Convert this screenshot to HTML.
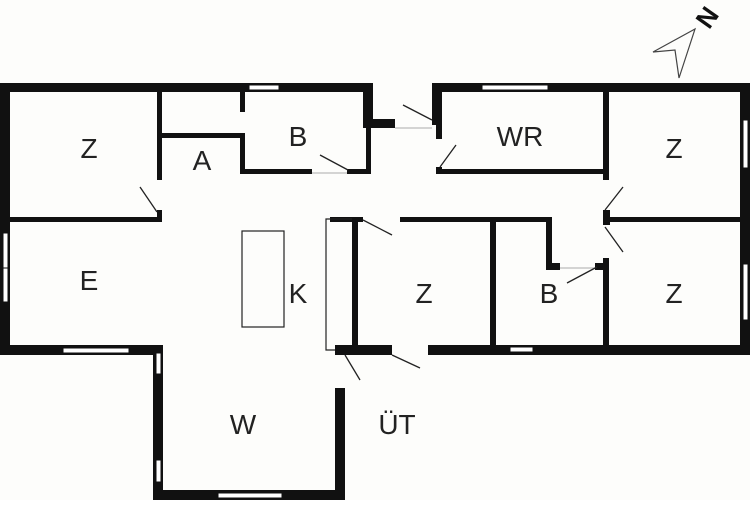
<!DOCTYPE html>
<html><head><meta charset="utf-8"><style>
html,body{margin:0;padding:0;background:#fff;}
svg text{font-family:"Liberation Sans",sans-serif;font-size:28px;fill:#222;text-anchor:middle;}
</style></head><body>
<svg width="750" height="500" viewBox="0 0 750 500" xmlns="http://www.w3.org/2000/svg">
<rect width="750" height="500" fill="#fdfdfb"/>
<g fill="#111">
<rect x="0" y="83" width="373" height="9"/>
<rect x="363" y="83" width="10" height="45"/>
<rect x="363" y="119" width="32" height="9"/>
<rect x="366" y="128" width="5" height="46"/>
<rect x="432" y="83" width="318" height="9"/>
<rect x="432" y="83" width="10" height="42"/>
<rect x="436" y="125" width="6" height="14"/>
<rect x="436" y="167" width="6" height="7"/>
<rect x="436" y="169" width="172" height="5"/>
<rect x="0" y="83" width="10" height="272"/>
<rect x="0" y="345" width="163" height="10"/>
<rect x="157" y="92" width="5" height="88"/>
<rect x="157" y="210" width="5" height="12"/>
<rect x="10" y="217" width="152" height="5"/>
<rect x="162" y="133" width="83" height="5"/>
<rect x="240" y="133" width="5" height="41"/>
<rect x="240" y="92" width="5" height="20"/>
<rect x="240" y="169" width="72" height="5"/>
<rect x="347" y="169" width="24" height="5"/>
<rect x="740" y="83" width="10" height="272"/>
<rect x="603" y="92" width="6" height="88"/>
<rect x="603" y="210" width="7" height="15"/>
<rect x="603" y="217" width="137" height="5"/>
<rect x="603" y="258" width="6" height="97"/>
<rect x="330" y="217" width="33" height="5"/>
<rect x="400" y="217" width="152" height="5"/>
<rect x="546" y="217" width="6" height="53"/>
<rect x="546" y="263" width="14" height="7"/>
<rect x="595" y="263" width="14" height="7"/>
<rect x="490" y="217" width="6" height="133"/>
<rect x="352" y="217" width="6" height="133"/>
<rect x="335" y="345" width="57" height="10"/>
<rect x="428" y="345" width="322" height="10"/>
<rect x="153" y="345" width="10" height="155"/>
<rect x="153" y="490" width="192" height="10"/>
<rect x="335" y="388" width="10" height="112"/>
</g>
<g fill="#fff" stroke="#111" stroke-width="1">
<rect x="249" y="85" width="30" height="5"/>
<rect x="482" y="85" width="66" height="5"/>
<rect x="743" y="120" width="5" height="48"/>
<rect x="743" y="264" width="5" height="56"/>
<rect x="3" y="233" width="5" height="35"/>
<rect x="3" y="268" width="5" height="34"/>
<rect x="63" y="348" width="66" height="5"/>
<rect x="510" y="347" width="23" height="5"/>
<rect x="156" y="353" width="5" height="21"/>
<rect x="156" y="460" width="5" height="22"/>
<rect x="218" y="493" width="64" height="5"/>
</g>
<g fill="none" stroke="#222" stroke-width="1.2">
<rect x="242" y="231" width="42" height="96"/>
<polyline points="352,219 326,219 326,350 335,350"/>
<line x1="395" y1="128" x2="432" y2="128" stroke="#bbb"/>
<line x1="312" y1="173" x2="347" y2="173" stroke="#bbb"/>
<line x1="560" y1="268" x2="595" y2="268" stroke="#bbb"/>
</g>
<g stroke="#222" stroke-width="1.3">
<line x1="403" y1="105" x2="432" y2="120"/>
<line x1="440" y1="167" x2="456" y2="145"/>
<line x1="320" y1="155" x2="348" y2="170"/>
<line x1="140" y1="187" x2="157" y2="212"/>
<line x1="605" y1="210" x2="623" y2="187"/>
<line x1="605" y1="227" x2="623" y2="252"/>
<line x1="567" y1="283" x2="597" y2="267"/>
<line x1="363" y1="220" x2="392" y2="235"/>
<line x1="392" y1="355" x2="420" y2="368"/>
<line x1="345" y1="355" x2="360" y2="380"/>
</g>
<g fill="none" stroke="#444" stroke-width="1.2">
<polygon points="653,52 695,29 679,78 675,50"/>
</g>
<text x="708" y="26" transform="rotate(-55 708 18)" style="font-size:26px;fill:#111;font-weight:bold">N</text>
<text x="89" y="158">Z</text>
<text x="202" y="170">A</text>
<text x="298" y="146">B</text>
<text x="520" y="146">WR</text>
<text x="674" y="158">Z</text>
<text x="89" y="290">E</text>
<text x="298" y="303">K</text>
<text x="424" y="303">Z</text>
<text x="549" y="303">B</text>
<text x="674" y="303">Z</text>
<text x="243" y="434">W</text>
<text x="397" y="434">ÜT</text>
</svg>
</body></html>
